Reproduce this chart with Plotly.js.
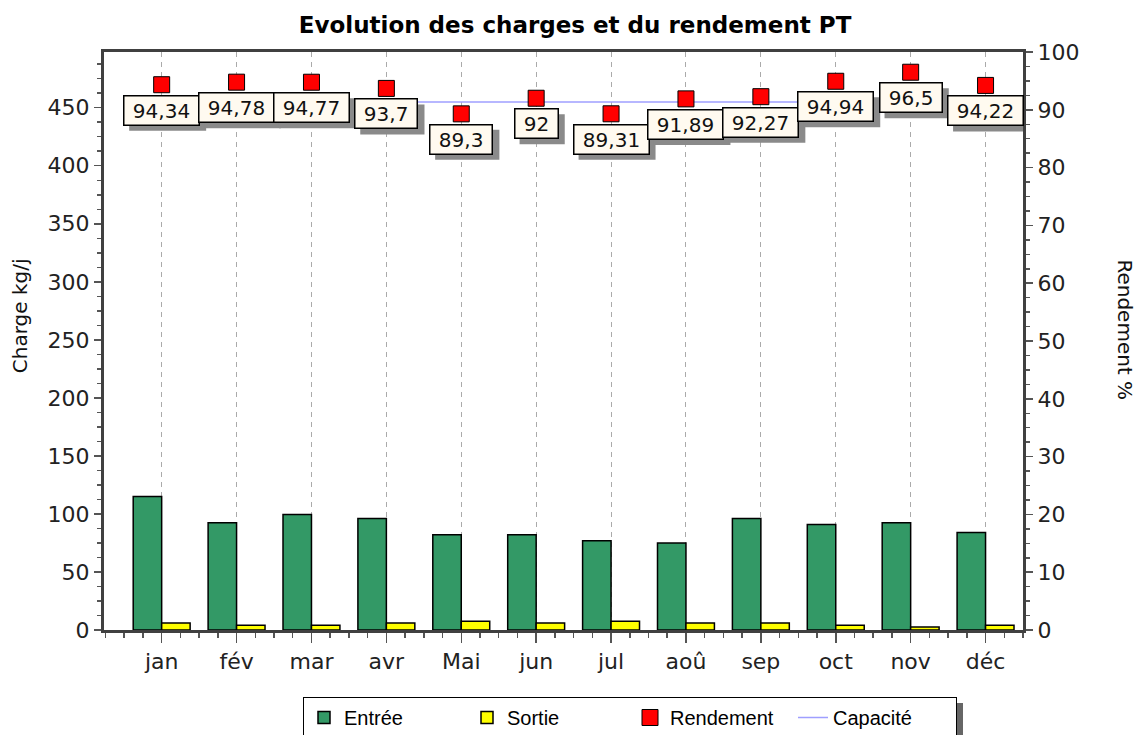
<!DOCTYPE html>
<html>
<head>
<meta charset="utf-8">
<script src="https://cdn.plot.ly/plotly-3.0.1.min.js"></script>
<style>
  html, body { margin: 0; padding: 0; background: #fff; }
  #chart { width: 1141px; height: 735px; }
</style>
</head>
<body>
<div id="chart"></div>
<script>
// ---- data ----
const months = ['jan', 'fév', 'mar', 'avr', 'Mai', 'jun', 'jul', 'aoû', 'sep', 'oct', 'nov', 'déc'];
const entree = [115, 92.5, 99.5, 96, 82, 82, 77, 75, 96, 91, 92.5, 84];
const sortie = [6, 4, 4, 6, 7.5, 6, 7.5, 6, 6, 4, 2.5, 4];
const rendement = [94.34, 94.78, 94.77, 93.7, 89.3, 92, 89.31, 91.89, 92.27, 94.94, 96.5, 94.22];
const capacite = [455, 455, 455, 455, 455, 455, 455, 455, 455, 455, 455, 455];
const leftTicks = [0, 50, 100, 150, 200, 250, 300, 350, 400, 450];
const rightTicks = [0, 10, 20, 30, 40, 50, 60, 70, 80, 90, 100];

const xIdx = months.map((m, i) => i);
const rendLabels = rendement.map(v => '\u00a0' + String(v).replace('.', ',') + '\u00a0');

const FONT = 'DejaVu Sans, Verdana, sans-serif';
const LFONT = 'Liberation Sans, Arial, sans-serif';
const AXC = '#404040';
const LABEL_SIZE = 20, LABEL_PAD = 2, LABEL_BW = 1.5, LABEL_H = 30, LABEL_DROP = 10;

const traces = [
  {
    type: 'bar', name: 'Entrée', x: xIdx, y: entree,
    marker: { color: '#339966', line: { color: '#000', width: 1.5 } },
    hoverinfo: 'skip'
  },
  {
    type: 'bar', name: 'Sortie', x: xIdx, y: sortie,
    marker: { color: '#ffff00', line: { color: '#000', width: 1.5 } },
    hoverinfo: 'skip'
  },
  {
    type: 'scatter', mode: 'markers', name: 'Rendement', x: xIdx, y: rendement, yaxis: 'y2',
    marker: { symbol: 'square', size: 16, color: '#ff0000', line: { color: '#000', width: 1 } },
    hoverinfo: 'skip'
  },
  {
    type: 'scatter', mode: 'lines', name: 'Capacité', x: xIdx, y: capacite,
    line: { color: '#9f9fff', width: 1.5 },
    hoverinfo: 'skip'
  }
];

// measure label widths to size the drop shadows
const ctx = document.createElement('canvas').getContext('2d');
ctx.font = LABEL_SIZE + 'px "DejaVu Sans"';
const labelW = rendLabels.map(t => ctx.measureText(t).width + 2 * LABEL_PAD + 2 * LABEL_BW);

const shapes = [];
rendement.forEach((v, i) => {
  const w = labelW[i];
  shapes.push({
    type: 'rect', xref: 'x', yref: 'y2', xsizemode: 'pixel', ysizemode: 'pixel',
    xanchor: xIdx[i], yanchor: v,
    x0: -w / 2 + 6, x1: w / 2 + 6, y0: -LABEL_DROP - 6, y1: -LABEL_DROP - 6 - LABEL_H,
    fillcolor: '#8a8a8a', line: { width: 0 }, layer: 'above'
  });
});

const annotations = [];
rendement.forEach((v, i) => {
  annotations.push({
    x: xIdx[i], y: v, xref: 'x', yref: 'y2', yanchor: 'top', xanchor: 'center',
    yshift: -LABEL_DROP, showarrow: false,
    text: rendLabels[i],
    font: { family: FONT, size: LABEL_SIZE, color: '#111' },
    bgcolor: '#fffaf0', bordercolor: '#000', borderwidth: LABEL_BW, borderpad: LABEL_PAD
  });
});
// axis titles
annotations.push({
  xref: 'paper', yref: 'paper', x: 0, y: 0.543, xshift: -84, xanchor: 'center', yanchor: 'middle',
  showarrow: false,
  text: 'Charge kg/j', textangle: -90, font: { family: FONT, size: 20, color: '#111' }
});
annotations.push({
  xref: 'paper', yref: 'paper', x: 1, y: 0.52, xshift: 102, xanchor: 'center', yanchor: 'middle',
  showarrow: false,
  text: 'Rendement %', textangle: 90, font: { family: FONT, size: 20, color: '#111' }
});

// pixel helpers for the legend shadow (plot area: x 104..1023, y 52..630)
const px = p => (p - 104) / 919;
const py = p => (630 - p) / 578;
shapes.push({
  type: 'rect', xref: 'paper', yref: 'paper', x0: px(311), x1: px(963), y0: py(703), y1: py(745),
  fillcolor: '#666', line: { width: 0 }, layer: 'below'
});

const layout = {
  width: 1141, height: 735,
  margin: { l: 104, r: 118, t: 52, b: 105 },
  paper_bgcolor: '#fff', plot_bgcolor: '#fff',
  showlegend: true,
  barmode: 'group', bargap: 0.24, bargroupgap: 0,
  title: {
    text: 'Evolution des charges et du rendement PT',
    font: { family: FONT, size: 23, color: '#000', weight: 'bold' },
    xref: 'container', x: 0.504, xanchor: 'center',
    yref: 'container', y: 0.966, yanchor: 'middle'
  },
  xaxis: {
    type: 'linear', range: [-0.77, 11.5],
    tickmode: 'array', tickvals: xIdx, ticktext: months,
    ticks: 'outside', ticklen: 10, tickwidth: 1.5, tickcolor: '#555',
    minor: { tickmode: 'linear', tick0: 0, dtick: 0.25, ticks: 'outside', ticklen: 5, tickwidth: 1.5, tickcolor: '#555', showgrid: false },
    showgrid: true, gridcolor: '#aaaaaa', gridwidth: 1, griddash: '5px,5px',
    zeroline: false, showline: true, linecolor: AXC, linewidth: 3, mirror: true,
    tickfont: { family: FONT, size: 22, color: '#222' }, fixedrange: true
  },
  yaxis: {
    range: [0, 498], tickmode: 'array', tickvals: leftTicks,
    ticks: 'outside', ticklen: 7, tickwidth: 1.5, tickcolor: '#555',
    minor: { tickmode: 'linear', tick0: 0, dtick: 12.5, ticks: 'outside', ticklen: 4, tickwidth: 1.5, tickcolor: '#555', showgrid: false },
    showgrid: false, zeroline: false, showline: true, linecolor: AXC, linewidth: 3,
    tickfont: { family: FONT, size: 22, color: '#222' }, fixedrange: true
  },
  yaxis2: {
    overlaying: 'y', side: 'right', range: [0, 100], tickmode: 'array', tickvals: rightTicks,
    ticks: 'outside', ticklen: 7, tickwidth: 1.5, tickcolor: '#555',
    minor: { tickmode: 'linear', tick0: 0, dtick: 2.5, ticks: 'outside', ticklen: 4, tickwidth: 1.5, tickcolor: '#555', showgrid: false },
    showgrid: false, zeroline: false, showline: true, linecolor: AXC, linewidth: 3,
    tickfont: { family: FONT, size: 22, color: '#222' }, fixedrange: true
  },
  legend: {
    orientation: 'h', xref: 'container', x: 303 / 1141, xanchor: 'left',
    yref: 'container', y: 1 - 697 / 735, yanchor: 'top',
    bgcolor: '#fff', bordercolor: '#000', borderwidth: 1,
    font: { family: LFONT, size: 20, color: '#000' },
    entrywidth: 118, entrywidthmode: 'pixels', traceorder: 'normal'
  },
  shapes: shapes,
  annotations: annotations
};

Plotly.newPlot('chart', traces, layout, { displayModeBar: false, staticPlot: true });
</script>
</body>
</html>
